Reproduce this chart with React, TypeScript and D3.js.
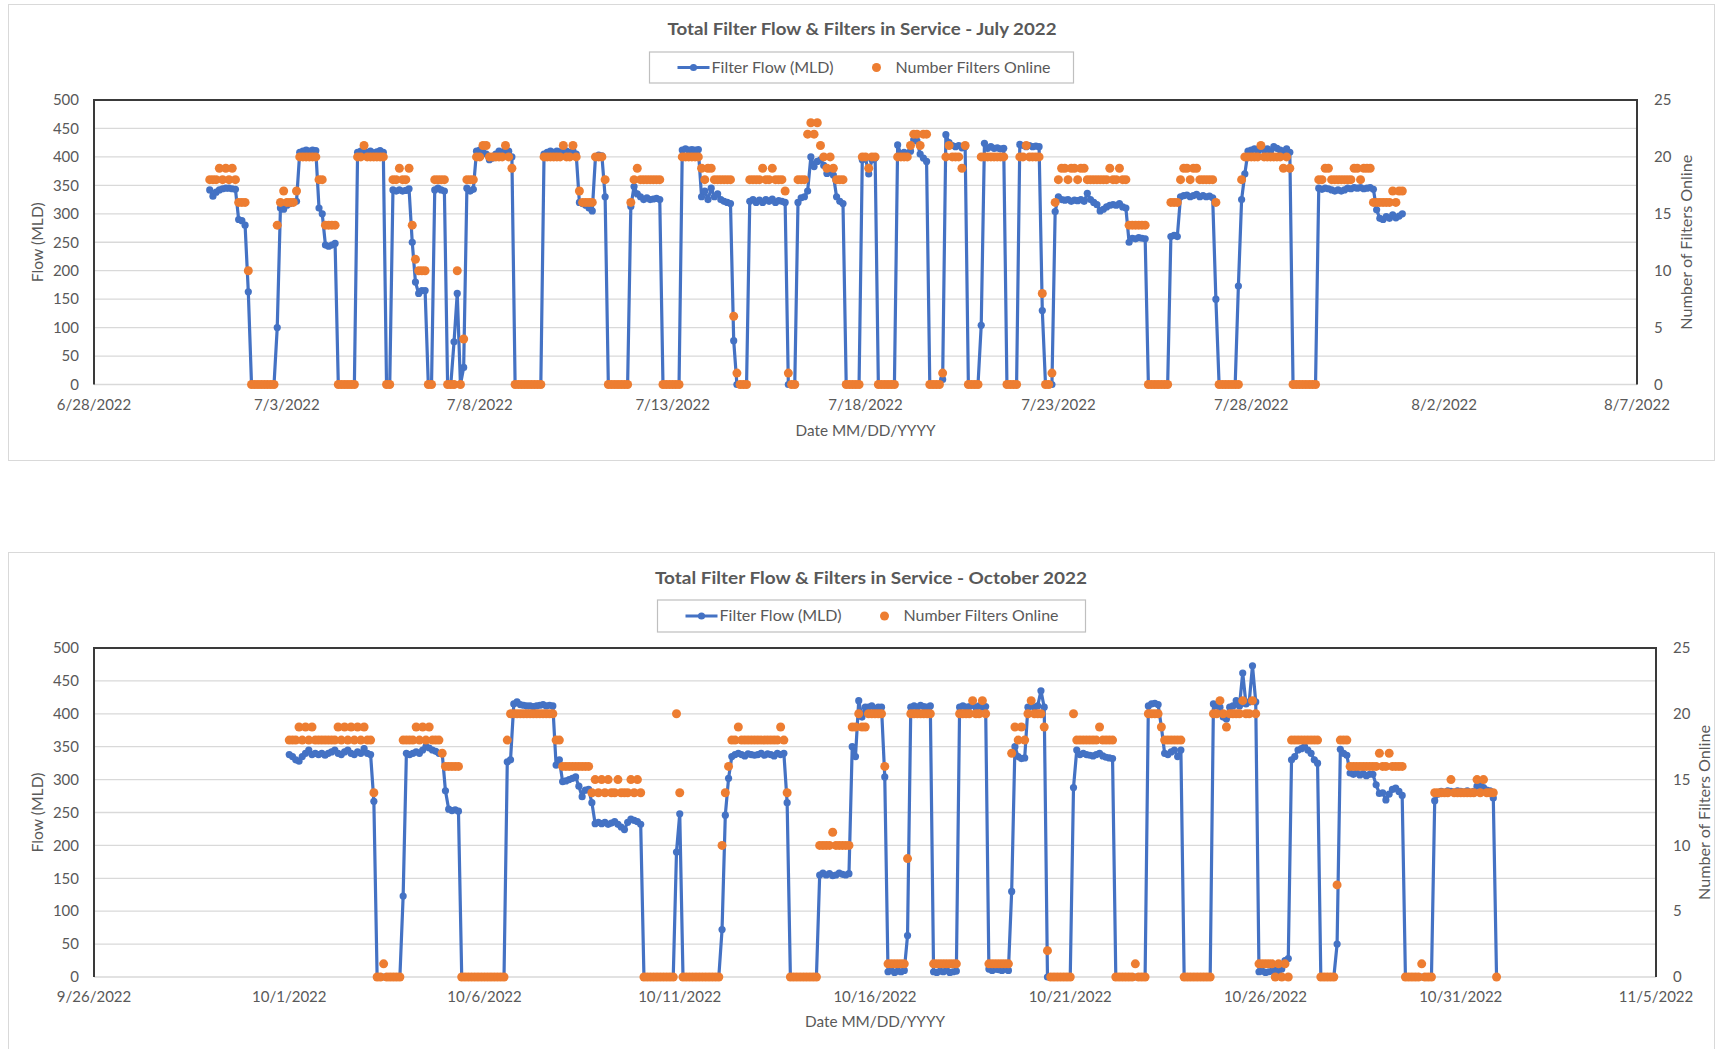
import { useEffect, useRef } from 'react';
import * as d3 from 'd3';

// Samples every 2 hours, one row per day (00:00 ... 22:00)
const julyFlow = [
  "342 331 338 342 344 345 345 344 343 290 288 280",
  "163 0 0 0 0 0 0 0 0 100 310 308",
  "315 318 320 322 408 410 412 410 412 411 310 300",
  "245 243 245 248 0 0 0 0 0 0 408 410",
  "409 408 410 407 409 411 408 0 0 342 340 342",
  "340 341 344 250 180 160 165 165 0 0 342 345",
  "342 340 0 0 75 160 0 30 345 340 343 410",
  "412 408 405 395 398 405 410 408 412 410 400 0",
  "0 0 0 0 0 0 0 0 405 408 410 408",
  "410 409 408 410 408 410 405 320 318 315 310 305",
  "400 403 402 330 0 0 0 0 0 0 0 313",
  "348 335 330 325 328 325 326 327 325 0 0 0",
  "0 0 0 412 414 412 413 412 413 330 340 325",
  "345 330 335 325 322 320 318 77 0 0 0 0",
  "322 325 320 324 320 325 322 326 320 323 322 320",
  "0 0 0 320 328 330 340 400 383 392 395 385",
  "371 375 368 330 322 318 0 0 0 0 0 395",
  "398 370 395 398 0 0 0 0 0 0 421 405",
  "408 405 410 430 428 405 398 392 0 0 0 0",
  "9 439 425 420 418 420 416 418 0 0 0 0",
  "104 424 415 418 415 416 414 415 0 0 0 0",
  "422 420 418 420 418 419 418 130 0 0 0 304",
  "330 325 324 325 322 324 323 325 322 336 325 320",
  "316 305 308 312 315 316 315 318 312 310 250 257",
  "256 258 257 256 0 0 0 0 0 0 0 260",
  "262 260 330 332 333 330 332 334 330 332 330 331",
  "328 150 0 0 0 0 0 0 173 325 370 410",
  "412 414 410 416 412 414 410 418 415 412 410 414",
  "408 0 0 0 0 0 0 0 0 345 343 345",
  "344 342 340 342 340 342 345 344 346 345 346 344",
  "345 346 343 307 292 290 295 292 298 293 296 300",
];

const julyFilters = [
  "18 18 18 19 18 19 18 19 18 16 16 16",
  "10 0 0 0 0 0 0 0 0 14 16 17",
  "16 16 16 17 20 20 20 20 20 20 18 18",
  "14 14 14 14 0 0 0 0 0 0 20 20",
  "21 20 20 20 20 20 20 0 0 18 18 19",
  "18 18 19 14 11 10 10 10 0 0 18 18",
  "18 18 0 0 0 10 0 4 18 18 18 20",
  "20 21 21 20 20 20 20 20 21 20 19 0",
  "0 0 0 0 0 0 0 0 20 20 20 20",
  "20 20 21 20 20 21 20 17 16 16 16 16",
  "20 20 20 18 0 0 0 0 0 0 0 16",
  "18 19 18 18 18 18 18 18 18 0 0 0",
  "0 0 0 20 20 20 20 20 20 19 18 19",
  "19 18 18 18 18 18 18 6 1 0 0 0",
  "18 18 18 18 19 18 18 19 18 18 18 17",
  "1 0 0 18 18 18 22 23 22 23 21 20",
  "19 20 19 18 18 18 0 0 0 0 0 20",
  "20 19 20 20 0 0 0 0 0 0 20 20",
  "20 20 21 22 22 21 22 22 0 0 0 0",
  "1 20 21 20 20 20 19 21 0 0 0 0",
  "20 20 20 20 20 20 20 20 0 0 0 0",
  "20 20 21 20 20 20 20 8 0 0 1 16",
  "18 19 19 18 19 19 18 19 19 18 18 18",
  "18 18 18 18 19 18 18 19 18 18 14 14",
  "14 14 14 14 0 0 0 0 0 0 0 16",
  "16 16 18 19 19 18 19 19 18 18 18 18",
  "18 16 0 0 0 0 0 0 0 18 20 20",
  "20 20 20 21 20 20 20 20 20 20 19 20",
  "19 0 0 0 0 0 0 0 0 18 18 19",
  "19 18 18 18 18 18 18 18 19 19 18 19",
  "19 19 16 16 16 16 16 16 17 16 17 17",
];

const octFlow = [
  "338 335 330 328 335 340 345 338 340 338 340 337",
  "340 342 345 340 338 342 345 340 338 342 340 347",
  "340 338 267 0 0 0 0 0 0 0 0 123",
  "340 338 340 342 340 345 350 348 345 343 340 340",
  "283 255 253 254 252 0 0 0 0 0 0 0",
  "0 0 0 0 0 0 0 327 330 415 418 414",
  "413 412 412 411 412 413 414 412 413 412 322 330",
  "297 298 300 302 304 290 274 284 285 265 233 235",
  "233 235 232 234 236 232 228 224 235 240 238 236",
  "232 0 0 0 0 0 0 0 0 0 0 190",
  "248 0 0 0 0 0 0 0 0 0 0 0",
  "0 72 246 302 335 338 340 338 336 339 338 337",
  "338 340 337 339 338 336 340 338 340 265 0 0",
  "0 0 0 0 0 0 0 155 158 155 157 154",
  "155 158 156 155 157 350 335 420 395 410 410 412",
  "408 410 410 304 8 10 7 9 8 10 63 410",
  "412 410 413 411 410 412 8 7 9 8 10 7",
  "8 9 410 412 410 411 413 410 412 410 411 12",
  "10 12 11 10 12 10 130 350 335 332 333 410",
  "412 410 412 435 410 0 0 0 0 0 0 0",
  "0 288 345 338 340 338 337 336 338 340 336 334",
  "333 332 0 0 0 0 0 0 0 0 0 0",
  "412 415 416 414 380 340 338 342 345 335 345 0",
  "0 0 0 0 0 0 0 0 415 412 410 395",
  "392 410 412 420 412 462 415 418 473 418 8 9",
  "7 8 9 10 8 12 25 28 330 335 345 347",
  "350 345 340 330 325 0 0 0 0 0 50 346",
  "340 337 310 308 310 307 309 306 308 308 292 279",
  "280 269 278 285 287 282 276 0 0 0 0 0",
  "0 0 0 0 268 278 282 280 283 282 281 283",
  "282 281 283 280 282 290 292 288 284 283 272 0",
];

const octFilters = [
  "18 18 18 19 18 19 18 19 18 18 18 18",
  "18 18 18 19 18 19 18 19 18 19 18 19",
  "18 18 14 0 0 1 0 0 0 0 0 18",
  "18 18 18 19 18 19 18 19 18 18 18 17",
  "16 16 16 16 16 0 0 0 0 0 0 0",
  "0 0 0 0 0 0 0 18 20 20 20 20",
  "20 20 20 20 20 20 20 20 20 20 18 18",
  "16 16 16 16 16 16 16 16 16 14 15 14",
  "15 14 15 14 14 15 14 14 14 15 14 15",
  "14 0 0 0 0 0 0 0 0 0 0 20",
  "14 0 0 0 0 0 0 0 0 0 0 0",
  "0 10 14 16 18 18 19 18 18 18 18 18",
  "18 18 18 18 18 18 18 19 18 14 0 0",
  "0 0 0 0 0 0 0 10 10 10 10 11",
  "10 10 10 10 10 19 19 20 19 19 20 20",
  "20 20 20 16 1 1 1 1 1 1 9 20",
  "20 20 20 20 20 20 1 1 1 1 1 1",
  "1 1 20 20 20 20 21 20 20 21 20 1",
  "1 1 1 1 1 1 17 19 18 19 18 20",
  "21 20 20 20 19 2 0 0 0 0 0 0",
  "0 20 18 18 18 18 18 18 18 19 18 18",
  "18 18 0 0 0 0 0 0 1 0 0 0",
  "20 20 20 20 19 18 18 18 18 18 18 0",
  "0 0 0 0 0 0 0 0 20 20 21 20",
  "19 20 20 20 20 21 20 20 21 20 1 1",
  "1 1 1 0 1 0 1 0 18 18 18 18",
  "18 18 18 18 18 0 0 0 0 0 7 18",
  "18 18 16 16 16 16 16 16 16 16 16 17",
  "16 16 17 16 16 16 16 0 0 0 0 0",
  "1 0 0 0 14 14 14 14 14 15 14 14",
  "14 14 14 14 14 15 14 15 14 14 14 0",
];

const julyTicks = ["6/28/2022", "7/3/2022", "7/8/2022", "7/13/2022", "7/18/2022", "7/23/2022", "7/28/2022", "8/2/2022", "8/7/2022"];
const octTicks = ["9/26/2022", "10/1/2022", "10/6/2022", "10/11/2022", "10/16/2022", "10/21/2022", "10/26/2022", "10/31/2022", "11/5/2022"];
const flowTicks = [0, 50, 100, 150, 200, 250, 300, 350, 400, 450, 500];
const filterTicks = [0, 5, 10, 15, 20, 25];

const BLUE = '#4472C4';
const ORANGE = '#ED7D31';
const TEXT = '#595959';
const GRID = '#d9d9d9';
const SAMPLE_MS = 2 * 3600 * 1000;

interface Panel {
  title: string;
  titleW: number;
  flow: string[];
  filters: string[];
  start: number;
  ticks: string[];
  frame: { x: number; y: number; w: number; h: number };
  plot: { l: number; r: number; t: number; b: number };
  titleX: number;
  titleY: number;
  legend: { x: number; y: number; w: number; h: number };
  xLabelY: number;
  xTitleY: number;
  rightTitleX: number;
}

const panels: Panel[] = [
  {
    title: 'Total Filter Flow & Filters in Service - July 2022',
    titleW: 389,
    flow: julyFlow,
    filters: julyFilters,
    start: Date.UTC(2022, 6, 1),
    ticks: julyTicks,
    frame: { x: 8.5, y: 4.5, w: 1706, h: 456 },
    plot: { l: 94, r: 1637, t: 100, b: 384.5 },
    titleX: 862,
    titleY: 29,
    legend: { x: 649.5, y: 52, w: 424, h: 31 },
    xLabelY: 405,
    xTitleY: 431,
    rightTitleX: 1687,
  },
  {
    title: 'Total Filter Flow & Filters in Service - October 2022',
    titleW: 432,
    flow: octFlow,
    filters: octFilters,
    start: Date.UTC(2022, 9, 1),
    ticks: octTicks,
    frame: { x: 8.5, y: 552.5, w: 1706, h: 520 },
    plot: { l: 94, r: 1656, t: 648, b: 977 },
    titleX: 871,
    titleY: 578,
    legend: { x: 657.5, y: 600, w: 428, h: 32 },
    xLabelY: 997,
    xTitleY: 1022,
    rightTitleX: 1705,
  },
];

function expand(rows: string[], start: number) {
  const vals = rows.flatMap(r => r.trim().split(/\s+/).map(Number));
  return vals.map((v, i) => ({ t: new Date(start + i * SAMPLE_MS), v }));
}

function parseTick(s: string) {
  const [m, d, y] = s.split('/').map(Number);
  return new Date(Date.UTC(y, m - 1, d));
}

function drawPanel(g: any, p: Panel) {
  const flow = expand(p.flow, p.start);
  const filters = expand(p.filters, p.start);
  const tickDates = p.ticks.map(parseTick);
  const { l, r, t, b } = p.plot;

  const x = d3.scaleUtc().domain([tickDates[0], tickDates[tickDates.length - 1]]).range([l, r]);
  const y = d3.scaleLinear().domain([0, 500]).range([b, t]);
  const y2 = d3.scaleLinear().domain([0, 25]).range([b, t]);

  // outer chart frame
  g.append('rect')
    .attr('x', p.frame.x).attr('y', p.frame.y)
    .attr('width', p.frame.w).attr('height', p.frame.h)
    .attr('fill', '#fff').attr('stroke', GRID).attr('stroke-width', 1);

  // title
  g.append('text')
    .attr('x', p.titleX).attr('y', p.titleY).attr('dy', '0.35em')
    .attr('text-anchor', 'middle')
    .attr('font-size', 17).attr('font-weight', 'bold').attr('fill', TEXT)
    .attr('textLength', p.titleW).attr('lengthAdjust', 'spacingAndGlyphs')
    .text(p.title);

  // legend
  const lg = g.append('g').attr('transform', `translate(${p.legend.x},${p.legend.y})`);
  const cy = p.legend.h / 2;
  lg.append('rect').attr('width', p.legend.w).attr('height', p.legend.h)
    .attr('fill', '#fff').attr('stroke', '#bfbfbf').attr('stroke-width', 1.2);
  lg.append('line').attr('x1', 28).attr('x2', 60).attr('y1', cy).attr('y2', cy)
    .attr('stroke', BLUE).attr('stroke-width', 3.2);
  lg.append('circle').attr('cx', 44).attr('cy', cy).attr('r', 3.6).attr('fill', BLUE);
  lg.append('text').attr('x', 62).attr('y', cy).attr('dy', '0.35em')
    .attr('font-size', 15).attr('fill', TEXT)
    .attr('textLength', 122).attr('lengthAdjust', 'spacingAndGlyphs')
    .text('Filter Flow (MLD)');
  lg.append('circle').attr('cx', 227).attr('cy', cy).attr('r', 4.5).attr('fill', ORANGE);
  lg.append('text').attr('x', 246).attr('y', cy).attr('dy', '0.35em')
    .attr('font-size', 15).attr('fill', TEXT)
    .attr('textLength', 155).attr('lengthAdjust', 'spacingAndGlyphs')
    .text('Number Filters Online');

  // gridlines
  g.selectAll('.grid').data(flowTicks).enter().append('line')
    .attr('x1', l).attr('x2', r)
    .attr('y1', (d: number) => y(d)).attr('y2', (d: number) => y(d))
    .attr('stroke', GRID).attr('stroke-width', 1.3);

  // plot box: top, left, right
  g.append('path')
    .attr('d', `M${l},${b}V${t}H${r}V${b}`)
    .attr('fill', 'none').attr('stroke', '#3a3a3a').attr('stroke-width', 2);

  // left ticks
  g.selectAll('.yl').data(flowTicks).enter().append('text')
    .attr('x', l - 15).attr('y', (d: number) => y(d)).attr('dy', '0.35em')
    .attr('text-anchor', 'end').attr('font-size', 15).attr('fill', TEXT)
    .text((d: number) => d);

  // right ticks
  g.selectAll('.yr').data(filterTicks).enter().append('text')
    .attr('x', r + 17).attr('y', (d: number) => y2(d)).attr('dy', '0.35em')
    .attr('text-anchor', 'start').attr('font-size', 15).attr('fill', TEXT)
    .text((d: number) => d);

  // x ticks
  g.selectAll('.xl').data(tickDates).enter().append('text')
    .attr('x', (d: Date) => x(d)).attr('y', p.xLabelY).attr('dy', '0.35em')
    .attr('text-anchor', 'middle').attr('font-size', 15).attr('fill', TEXT)
    .text((_: Date, i: number) => p.ticks[i]);

  // axis titles
  g.append('text')
    .attr('x', l + (r - l) / 2).attr('y', p.xTitleY).attr('dy', '0.35em')
    .attr('text-anchor', 'middle').attr('font-size', 15).attr('fill', TEXT)
    .attr('textLength', 140).attr('lengthAdjust', 'spacingAndGlyphs')
    .text('Date MM/DD/YYYY');
  const midY = (t + b) / 2;
  g.append('text')
    .attr('transform', `translate(38,${midY}) rotate(-90)`).attr('dy', '0.35em')
    .attr('text-anchor', 'middle').attr('font-size', 15).attr('fill', TEXT)
    .attr('textLength', 80).attr('lengthAdjust', 'spacingAndGlyphs')
    .text('Flow (MLD)');
  g.append('text')
    .attr('transform', `translate(${p.rightTitleX},${midY}) rotate(-90)`).attr('dy', '0.35em')
    .attr('text-anchor', 'middle').attr('font-size', 15).attr('fill', TEXT)
    .attr('textLength', 175).attr('lengthAdjust', 'spacingAndGlyphs')
    .text('Number of Filters Online');

  // flow line + markers
  const line = d3.line<{ t: Date; v: number }>()
    .x(d => x(d.t))
    .y(d => y(d.v));
  g.append('path').datum(flow)
    .attr('d', line)
    .attr('fill', 'none').attr('stroke', BLUE).attr('stroke-width', 3.2)
    .attr('stroke-linejoin', 'round');
  g.selectAll('.fm').data(flow).enter().append('circle')
    .attr('cx', (d: any) => x(d.t)).attr('cy', (d: any) => y(d.v))
    .attr('r', 3.6).attr('fill', BLUE);

  // filters online (secondary axis)
  g.selectAll('.fo').data(filters).enter().append('circle')
    .attr('cx', (d: any) => x(d.t)).attr('cy', (d: any) => y2(d.v))
    .attr('r', 4.5).attr('fill', ORANGE);
}

export default function App() {
  const svgRef = useRef<SVGSVGElement>(null);

  useEffect(() => {
    if (!svgRef.current) return;
    const svg = d3.select(svgRef.current);
    svg.selectAll('*').remove();
    svg.append('rect').attr('width', 1718).attr('height', 1049).attr('fill', '#fff');
    panels.forEach(p => drawPanel(svg.append('g'), p));
  }, []);

  return (
    <svg
      ref={svgRef}
      width={1718}
      height={1049}
      style={{ position: 'absolute', left: 0, top: 0, fontFamily: 'Lato, "Open Sans", sans-serif' }}
    />
  );
}
